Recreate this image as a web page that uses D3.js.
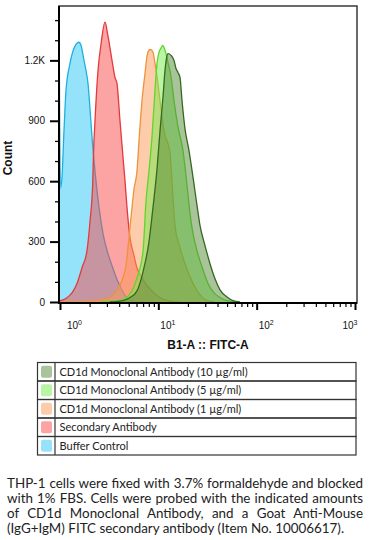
<!DOCTYPE html>
<html>
<head>
<meta charset="utf-8">
<script src="https://cdn.jsdelivr.net/npm/d3@7"></script>
<style>
  body { margin: 0; background: #fff; }
  svg { display: block; }
</style>
</head>
<body>
<div id="chart"></div>
<script>
var width = 371,
    height = 540;

// histogram data, FITC intensity (x) and event count (y)
var fitc10 = [3.225, 4.372, 5.150, 6.067, 6.984, 8.037, 8.826, 9.694, 10.40, 11.15, 11.69, 12.11, 12.54, 13.46, 14.43, 15.12, 15.85, 16.61, 17.41, 18.68, 20.50, 22.52, 24.73, 26.53, 29.83, 33.54, 37.70, 42.39, 49.93, 57.46, 67.70];
var count10 = [0, 7, 22, 55, 150, 300, 470, 660, 850, 1017, 1150, 1210, 1233, 1225, 1200, 1160, 1140, 1115, 1000, 860, 752, 620, 480, 380, 280, 190, 115, 60, 25, 7, 0];

var fitc5 = [2.552, 4.075, 5.150, 6.067, 6.984, 7.491, 8.037, 8.622, 9.250, 9.694, 10.16, 10.64, 11.08, 11.69, 12.54, 13.46, 14.43, 15.85, 17.82, 19.57, 20.99, 22.52, 24.73, 28.47, 32.00, 36.83, 42.39, 51.11, 60.22];
var count5 = [0, 8, 40, 120, 250, 500, 650, 820, 1050, 1185, 1240, 1260, 1274, 1250, 1190, 1120, 1000, 870, 752, 580, 440, 340, 255, 160, 92, 45, 22, 5, 0];

var fitc1 = [1.0, 1.713, 2.270, 3.006, 3.625, 4.271, 4.690, 4.914, 5.272, 5.656, 6.067, 6.360, 6.823, 7.318, 7.670, 8.037, 8.324, 8.826, 9.250, 9.694, 10.40, 11.42, 13.15, 14.10, 14.77, 16.61, 20.03, 24.73, 31.26, 37.70];
var count1 = [0, 2, 8, 17, 45, 107, 180, 270, 420, 560, 650, 800, 1000, 1135, 1220, 1250, 1254, 1240, 1185, 1120, 1000, 850, 740, 520, 380, 270, 150, 57, 7, 0];

var fitcSecondary = [0.977, 1.124, 1.324, 1.489, 1.674, 1.882, 2.019, 2.151, 2.191, 2.270, 2.435, 2.612, 2.869, 3.077, 3.380, 3.625, 3.799, 4.075, 4.372, 4.581, 4.801, 5.150, 5.656, 6.067, 6.823, 7.670, 8.826, 10.40, 14.10, 16.61];
var countSecondary = [5, 15, 45, 92, 170, 255, 400, 590, 737, 900, 1150, 1280, 1390, 1320, 1200, 1115, 1085, 900, 720, 603, 470, 320, 230, 170, 120, 82, 50, 22, 2, 0];

var fitcBuffer = [0.977, 1.012, 1.048, 1.098, 1.151, 1.264, 1.388, 1.489, 1.561, 1.635, 1.754, 1.838, 1.927, 2.019, 2.116, 2.270, 2.493, 2.737, 3.077, 3.380, 3.889, 4.372, 4.801, 5.790, 7.318];
var countBuffer = [1500, 565, 620, 850, 1050, 1185, 1260, 1285, 1290, 1275, 1200, 1150, 1085, 960, 820, 650, 470, 340, 240, 180, 100, 50, 20, 3, 0];

var seriesNames = ["CD1d Monoclonal Antibody (10 \u00b5g/ml)", "CD1d Monoclonal Antibody (5 \u00b5g/ml)", "CD1d Monoclonal Antibody (1 \u00b5g/ml)", "Secondary Antibody", "Buffer Control"];

var yTicks = [0, 300, 600, 900, 1200];
var yTickLabels = ["0", "300", "600", "900", "1.2K"];
var xTicks = [1, 10, 100, 1000];
var xTickExp = ["0", "1", "2", "3"];

var captionLines = [
  "THP-1 cells were fixed with 3.7% formaldehyde and blocked",
  "with 1% FBS. Cells were probed with the indicated amounts",
  "of CD1d Monoclonal Antibody, and a Goat Anti-Mouse",
  "(IgG+IgM) FITC secondary antibody (Item No. 10006617)."
];

// styles
var fillColors = ["#538935", "#73eb4b", "#fb9957", "#f94747", "#2bc7f7"];
var lineColors = ["#356a1f", "#5ed62a", "#f0923a", "#e23b3b", "#1fb0e0"];

var series = [
  {x: fitc10, y: count10},
  {x: fitc5, y: count5},
  {x: fitc1, y: count1},
  {x: fitcSecondary, y: countSecondary},
  {x: fitcBuffer, y: countBuffer}
].map(function(s, i){
  return {
    name: seriesNames[i],
    fill: fillColors[i],
    line: lineColors[i],
    values: s.x.map(function(v, j){ return {x: v, y: s.y[j]}; })
  };
});

var svg = d3.select('#chart')
            .append('svg')
            .attr('width', width)
            .attr('height', height);

var plotLeft = 59, plotRight = 357, plotTop = 6, plotBottom = 303;

var xScale = d3.scaleLog()
               .domain([0.977, 1048])
               .range([plotLeft, plotRight]);

var yScale = d3.scaleLinear()
               .domain([0, 1470])
               .range([302, plotTop]);

svg.append('clipPath')
   .attr('id', 'plotClip')
   .append('rect')
   .attr('x', plotLeft)
   .attr('y', plotTop)
   .attr('width', plotRight - plotLeft)
   .attr('height', plotBottom - plotTop);

var area = d3.area()
             .x(function(d){ return xScale(d.x); })
             .y0(yScale(0))
             .y1(function(d){ return yScale(d.y); })
             .curve(d3.curveMonotoneX);

var line = d3.line()
             .x(function(d){ return xScale(d.x); })
             .y(function(d){ return yScale(d.y); })
             .curve(d3.curveMonotoneX);

var plot = svg.append('g').attr('clip-path', 'url(#plotClip)');

// draw back to front: buffer first, 10 ug/ml last
series.slice().reverse().forEach(function(s){
  plot.append('path')
      .datum(s.values)
      .attr('d', area)
      .attr('fill', s.fill)
      .attr('fill-opacity', 0.5);
  plot.append('path')
      .datum(s.values)
      .attr('d', line)
      .attr('fill', 'none')
      .attr('stroke', s.line)
      .attr('stroke-width', 1.3)
      .attr('stroke-linejoin', 'round');
});

// frame
svg.append('rect')
   .attr('x', plotLeft)
   .attr('y', plotTop)
   .attr('width', plotRight - plotLeft)
   .attr('height', plotBottom - plotTop)
   .attr('fill', 'none')
   .attr('stroke', '#3a3a3a')
   .attr('stroke-width', 1.5);

//Y axis minor ticks
var yMinor = d3.range(100, 1500, 100).filter(function(v){ return v % 300 !== 0; });
svg.append('g')
   .attr('transform', 'translate(' + plotLeft + ',0)')
   .call(d3.axisLeft(yScale).tickValues(yMinor).tickSize(4).tickFormat('').tickSizeOuter(0))
   .call(function(g){ g.select('.domain').remove(); })
   .selectAll('line').attr('stroke', '#000').attr('stroke-width', 1.3);

//Y axis
var yAxisGroup = svg.append('g')
   .attr('transform', 'translate(' + plotLeft + ',0)')
   .call(d3.axisLeft(yScale)
           .tickValues(yTicks)
           .tickSize(9)
           .tickPadding(5)
           .tickSizeOuter(0)
           .tickFormat(function(d, i){ return yTickLabels[i]; }));
yAxisGroup.select('.domain').remove();
yAxisGroup.selectAll('line').attr('stroke', '#000').attr('stroke-width', 2);
yAxisGroup.selectAll('text')
   .attr('font-family', 'Liberation Sans, Arial, sans-serif')
   .attr('font-size', 10)
   .attr('fill', '#111');

//X axis minor ticks
var xMinor = [];
[1, 10, 100].forEach(function(dec){
  for (var k = 2; k <= 9; k++) xMinor.push(dec * k);
});
svg.append('g')
   .attr('transform', 'translate(0,' + plotBottom + ')')
   .call(d3.axisBottom(xScale).tickValues(xMinor).tickSize(4).tickFormat('').tickSizeOuter(0))
   .call(function(g){ g.select('.domain').remove(); })
   .selectAll('line').attr('stroke', '#000').attr('stroke-width', 1.2);

//X axis
var xAxisGroup = svg.append('g')
   .attr('transform', 'translate(0,' + plotBottom + ')')
   .call(d3.axisBottom(xScale).tickValues(xTicks).tickSize(7).tickFormat('').tickSizeOuter(0));
xAxisGroup.select('.domain').remove();
xAxisGroup.selectAll('line').attr('stroke', '#000').attr('stroke-width', 2);
xAxisGroup.selectAll('.tick').each(function(d, i){
  var last = i === xTicks.length - 1;
  var t = d3.select(this).select('text')
            .attr('x', i === 0 ? 6.5 : (last ? 2 : 1.5))
            .attr('y', 26)
            .attr('dy', null)
            .attr('text-anchor', last ? 'end' : 'start')
            .attr('font-family', 'Liberation Sans, Arial, sans-serif')
            .attr('fill', '#111')
            .text(null);
  t.append('tspan').attr('font-size', 10).text('10');
  t.append('tspan').attr('font-size', 7).attr('dy', -4).text(xTickExp[i]);
});

// axis lines
svg.append('line')
   .attr('x1', plotLeft).attr('x2', plotLeft)
   .attr('y1', plotTop).attr('y2', plotBottom + 1)
   .attr('stroke', '#000').attr('stroke-width', 2);
svg.append('line')
   .attr('x1', plotLeft - 1).attr('x2', plotRight)
   .attr('y1', plotBottom).attr('y2', plotBottom)
   .attr('stroke', '#000').attr('stroke-width', 2);

//Y-Axis title
svg.append('text')
   .attr('transform', 'translate(11.5,158) rotate(-90)')
   .attr('text-anchor', 'middle')
   .attr('font-family', 'Liberation Sans, Arial, sans-serif')
   .attr('font-weight', 'bold')
   .attr('font-size', 12)
   .attr('fill', '#111')
   .text('Count');

//X-Axis title
svg.append('text')
   .attr('x', (plotLeft + plotRight) / 2)
   .attr('y', 349)
   .attr('text-anchor', 'middle')
   .attr('font-family', 'Liberation Sans, Arial, sans-serif')
   .attr('font-weight', 'bold')
   .attr('font-size', 12)
   .attr('fill', '#111')
   .text('B1-A :: FITC-A');

// legend
var legTop = 362.5, legRowH = 18.5, legLeft = 37.5, legRight = 356, legSep = 55;
var legend = svg.append('g');
series.forEach(function(s, i){
  var top = legTop + i * legRowH;
  legend.append('rect')
        .attr('x', legLeft).attr('y', top)
        .attr('width', legRight - legLeft).attr('height', legRowH)
        .attr('fill', 'none').attr('stroke', '#333').attr('stroke-width', 1.2);
  legend.append('line')
        .attr('x1', legSep).attr('x2', legSep)
        .attr('y1', top).attr('y2', top + legRowH)
        .attr('stroke', '#333').attr('stroke-width', 1.2);
  legend.append('rect')
        .attr('x', 41).attr('y', top + legRowH / 2 - 6)
        .attr('width', 11).attr('height', 12).attr('rx', 2)
        .attr('fill', s.fill).attr('fill-opacity', 0.5);
  legend.append('text')
        .attr('x', 59.5).attr('y', top + legRowH / 2 + 4)
        .attr('font-family', 'Lato, sans-serif')
        .attr('font-size', 11)
        .attr('fill', '#222')
        .text(s.name);
});

// caption, justified by word spacing
captionLines.forEach(function(t, i){
  var el = svg.append('text')
              .attr('x', 7)
              .attr('y', 488 + i * 15)
              .attr('font-family', 'Lato, sans-serif')
              .attr('font-size', 13.4)
              .attr('fill', '#222')
              .text(t);
  if (i < captionLines.length - 1) {
    var w = el.node().getComputedTextLength();
    var gaps = t.split(' ').length - 1;
    el.attr('word-spacing', (356 - w) / gaps);
  }
});
</script>
</body>
</html>
